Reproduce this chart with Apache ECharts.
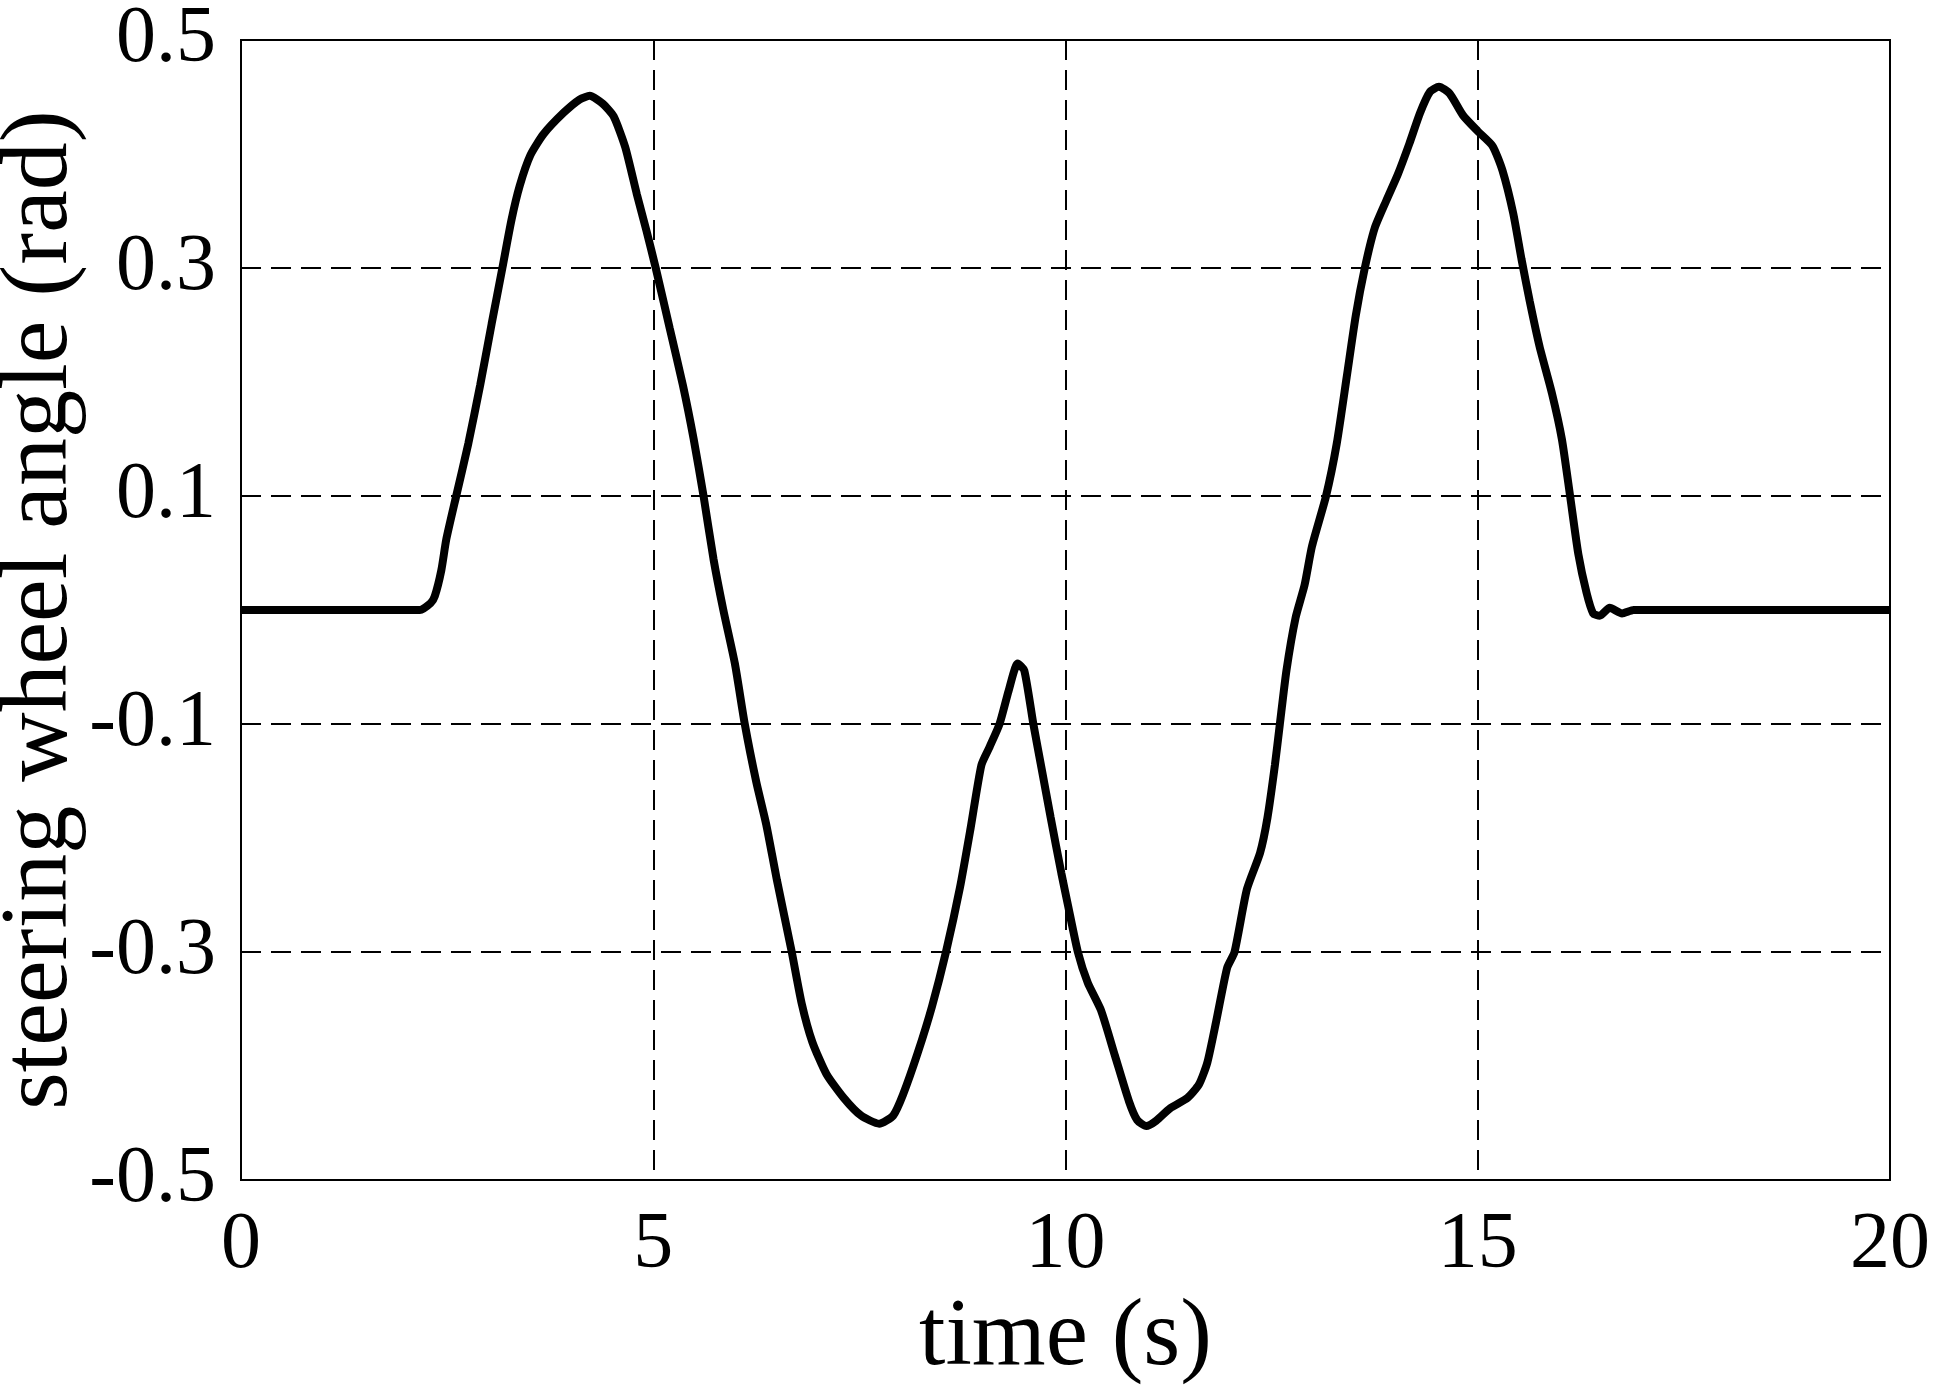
<!DOCTYPE html>
<html>
<head>
<meta charset="utf-8">
<title>steering wheel angle</title>
<script src="https://cdn.jsdelivr.net/npm/echarts@6.0.0/dist/echarts.min.js"></script>
<style>
  html, body { margin: 0; padding: 0; background: #fff; }
  #chart { width: 1941px; height: 1400px; }
</style>
</head>
<body>
<div id="chart"></div>
<script>
// time (s)
var timeS = [0, 2.0, 2.17, 2.3, 2.35, 2.43, 2.49, 2.61, 2.757, 2.90, 3.04, 3.17, 3.28, 3.38, 3.51, 3.67, 3.91, 4.11, 4.23, 4.39,
  4.52, 4.66, 4.80, 4.92, 5.03, 5.20, 5.36, 5.49, 5.61, 5.73, 5.85, 5.99, 6.11, 6.25, 6.37, 6.50, 6.68, 6.80, 6.93, 7.10,
  7.31, 7.52, 7.74, 7.91, 8.03, 8.21, 8.38, 8.55, 8.72, 8.85, 8.98, 9.08, 9.20, 9.31, 9.42, 9.50, 9.61, 9.71, 9.82, 9.95,
  10.03, 10.15, 10.27, 10.43, 10.60, 10.77, 10.87, 10.98, 11.10, 11.27, 11.48, 11.62, 11.72, 11.83, 11.96, 12.05, 12.20, 12.36, 12.45, 12.54,
  12.60, 12.68, 12.79, 12.90, 12.99, 13.16, 13.29, 13.41, 13.52, 13.63, 13.75, 13.89, 14.03, 14.17, 14.30, 14.42, 14.53, 14.66, 14.82, 15.00,
  15.18, 15.30, 15.43, 15.53, 15.63, 15.75, 15.90, 16.02, 16.12, 16.22, 16.32, 16.40, 16.48, 16.60, 16.75, 16.89, 20];
// steering wheel angle (rad)
var angleRad = [0, 0, 0, 0.006, 0.012, 0.035, 0.062, 0.1, 0.146, 0.197, 0.251, 0.3, 0.342, 0.372, 0.399, 0.4175, 0.436, 0.448, 0.451, 0.444,
  0.433, 0.406, 0.365, 0.332, 0.3, 0.247, 0.197, 0.150, 0.1, 0.045, 0.0, -0.047, -0.1, -0.151, -0.188, -0.237, -0.3, -0.345, -0.379, -0.407,
  -0.428, -0.4435, -0.4506, -0.4435, -0.425, -0.388, -0.348, -0.3, -0.2435, -0.191, -0.136, -0.120, -0.1, -0.071, -0.047, -0.053, -0.1, -0.139, -0.182, -0.231,
  -0.259, -0.3, -0.327, -0.351, -0.391, -0.431, -0.4475, -0.4527, -0.448, -0.437, -0.428, -0.416, -0.397, -0.360, -0.314, -0.3, -0.245, -0.213, -0.182, -0.136,
  -0.1, -0.053, -0.007, 0.022, 0.056, 0.1, 0.146, 0.204, 0.258, 0.3, 0.335, 0.359, 0.382, 0.409, 0.436, 0.4545, 0.459, 0.453, 0.434, 0.420,
  0.407, 0.3855, 0.348, 0.308, 0.271, 0.231, 0.190, 0.150, 0.1, 0.049, 0.015, -0.003, -0.005, 0.002, -0.003, 0, 0];

var xTicks = [0, 5, 10, 15, 20];
var yTicks = [-0.5, -0.3, -0.1, 0.1, 0.3, 0.5];

var serif = '"Liberation Serif", "DejaVu Serif", serif';

var pts = [];
for (var i = 0; i < timeS.length; i++) {
  pts.push([timeS[i], angleRad[i]]);
}

var chart = echarts.init(document.getElementById('chart'));
var dash = { color: '#000', width: 2, type: [20, 10] };

var option = {
  animation: false,
  backgroundColor: '#fff',
  grid: {
    left: 241, top: 40, width: 1649, height: 1140,
    outerBoundsMode: 'none',
    containLabel: false,
    show: true, borderColor: '#000', borderWidth: 2, backgroundColor: 'transparent'
  },
  xAxis: {
    type: 'value',
    min: xTicks[0],
    max: xTicks[xTicks.length - 1],
    interval: 5,
    name: 'time (s)',
    nameLocation: 'middle',
    nameGap: 112,
    nameTextStyle: { fontFamily: serif, fontSize: 95, color: '#000' },
    axisLine: { show: false },
    axisTick: { show: false },
    axisLabel: { margin: 26, fontFamily: serif, fontSize: 80, color: '#000' },
    splitLine: { show: true, showMinLine: false, showMaxLine: false, lineStyle: dash }
  },
  yAxis: {
    type: 'value',
    min: yTicks[0],
    max: yTicks[yTicks.length - 1],
    interval: 0.2,
    name: 'steering wheel angle (rad)',
    nameLocation: 'middle',
    nameGap: 152,
    nameMoveOverlap: false,
    nameTextStyle: { fontFamily: serif, fontSize: 96, color: '#000' },
    axisLine: { show: false },
    axisTick: { show: false },
    axisLabel: {
      margin: 25, fontFamily: serif, fontSize: 80, color: '#000',
      formatter: function (v) { return v.toFixed(1); }
    },
    splitLine: { show: true, showMinLine: false, showMaxLine: false, lineStyle: dash }
  },
  series: [{
    type: 'line',
    data: pts,
    showSymbol: false,
    smooth: 0.2,
    lineStyle: { color: '#000', width: 8 }
  }]
};
chart.setOption(option);
</script>
</body>
</html>
